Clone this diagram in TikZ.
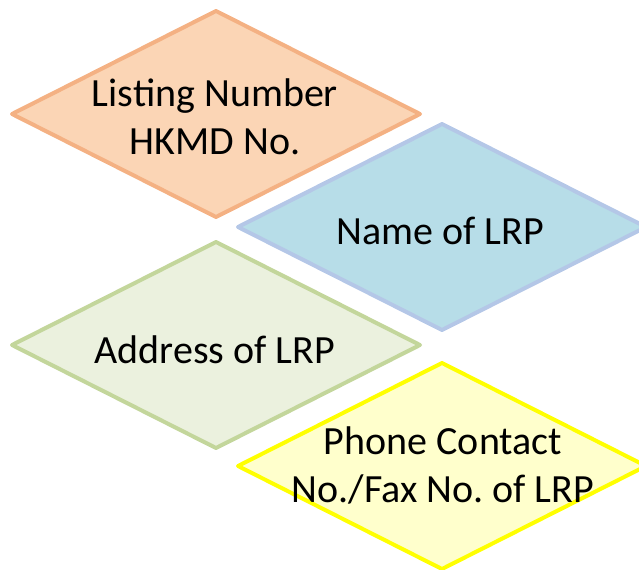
\documentclass[tikz,border=0pt]{standalone}
\usepackage{fontspec}
\setmainfont{Carlito}
\frenchspacing
\definecolor{orFill}{HTML}{FBD5B5}
\definecolor{orLine}{HTML}{F4B183}
\definecolor{blFill}{HTML}{B7DDE8}
\definecolor{blLine}{HTML}{B4C7E7}
\definecolor{grFill}{HTML}{EBF1DE}
\definecolor{grLine}{HTML}{C3D69B}
\definecolor{yeFill}{HTML}{FFFFCC}
\definecolor{yeLine}{HTML}{FFFF00}
\tikzset{
  dia/.style={line width=3pt, line join=round},
  lbl/.style={align=center, font=\fontsize{30}{36}\selectfont\frenchspacing, text=black, inner sep=0pt}
}
\newcommand{\mydiamond}[3]{%
  \path[dia, fill=#2, draw=#3] ($#1+(-204,0)$) -- ($#1+(0,-103)$) -- ($#1+(204,0)$) -- ($#1+(0,103)$) -- cycle;}
\usetikzlibrary{calc}
\begin{document}
\begin{tikzpicture}[x=0.75pt, y=-0.75pt]
\useasboundingbox (0,0) rectangle (639,570);
\mydiamond{(216,114)}{orFill}{orLine}
\mydiamond{(442,227)}{blFill}{blLine}
\mydiamond{(216,345)}{grFill}{grLine}
\mydiamond{(442,466)}{yeFill}{yeLine}
\node[lbl] (listing) at (215,117) {Listing Number\\HKMD No.};
\node[lbl] (name) at (440,231) {Name of LRP};
\node[lbl] (address) at (215,350) {Address of LRP};
\node[lbl] (phone) at (443,465) {Phone Contact\\No./Fax No. of LRP};
\end{tikzpicture}
\end{document}
